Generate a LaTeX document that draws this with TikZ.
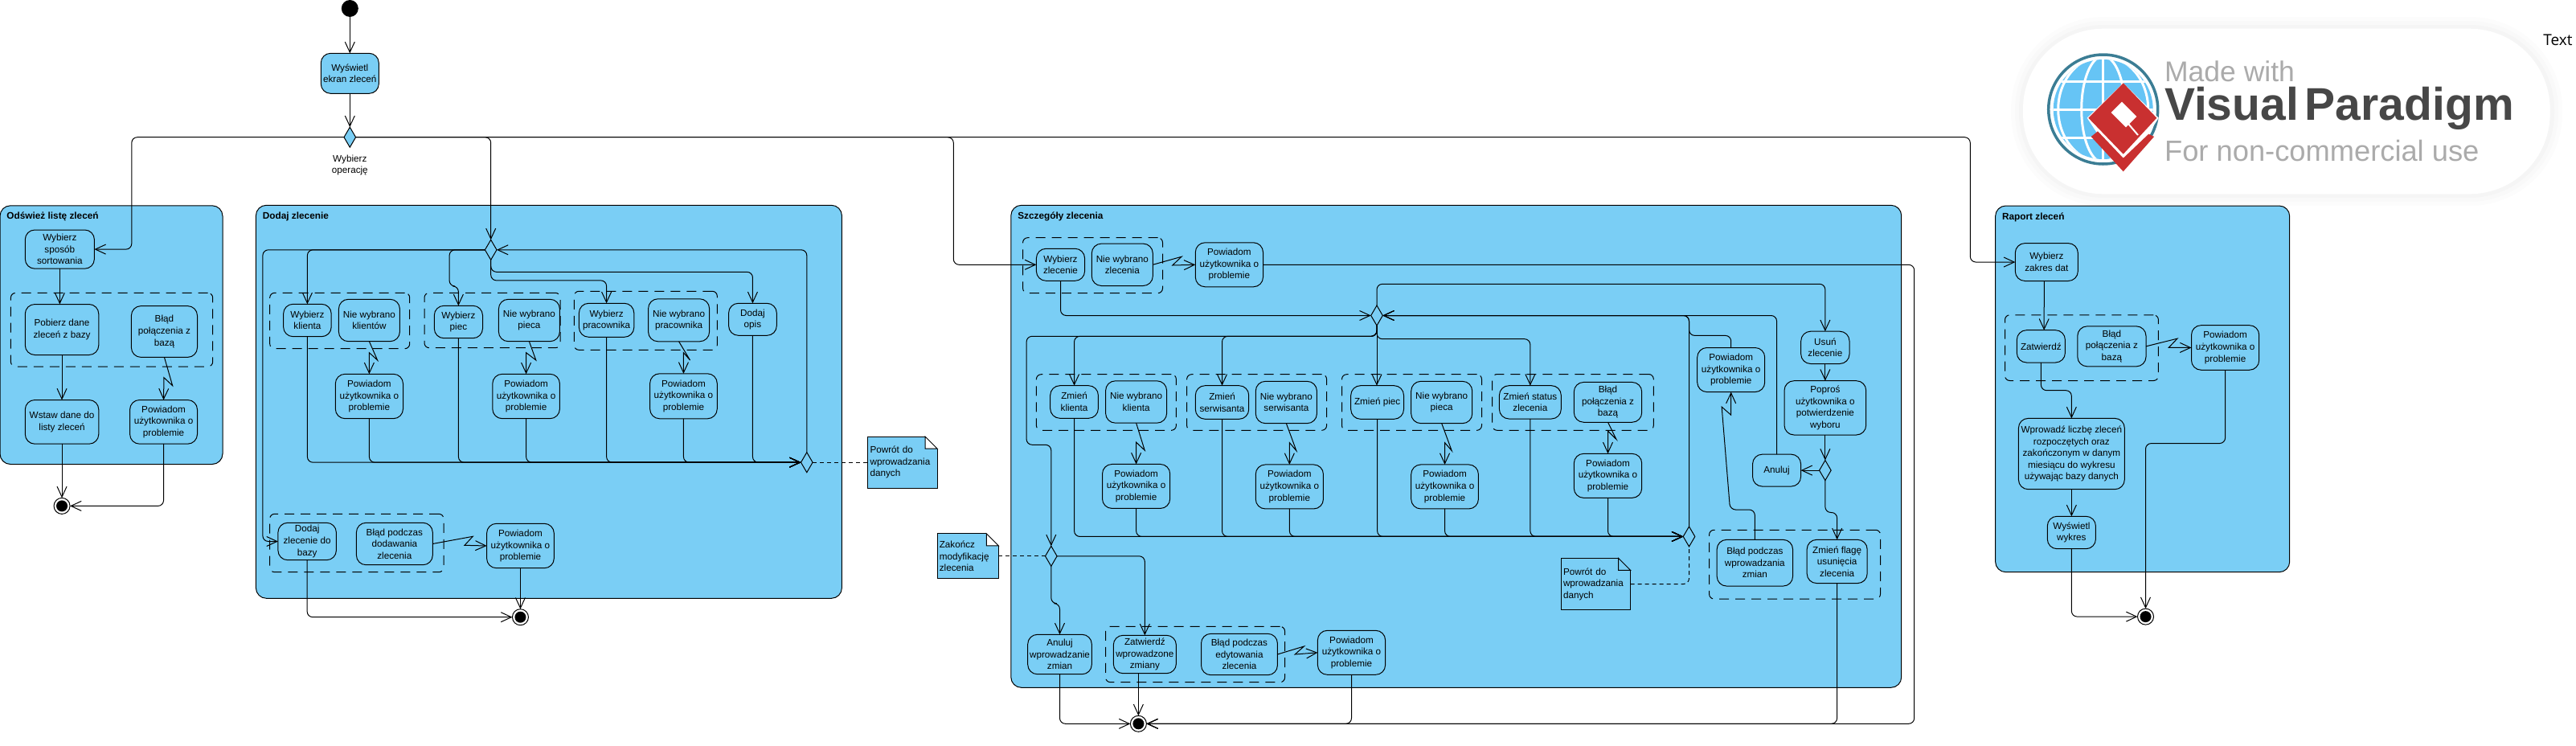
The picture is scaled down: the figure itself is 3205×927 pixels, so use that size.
\documentclass[tikz,border=0pt]{standalone}
\usepackage{fontspec}
\setmainfont{Liberation Sans}
\newfontfamily\plainfont{Open Sans}
\usetikzlibrary{positioning,arrows.meta,calc,shapes.geometric}
\definecolor{panelblue}{RGB}{122,206,245}
\definecolor{logored}{RGB}{201,48,48}
\definecolor{logoteal}{RGB}{59,125,148}
\definecolor{logosky}{RGB}{102,196,245}
\newcommand{\notefold}[2]{%
    \fill[#2] ([xshift=-15pt,yshift=0.6pt]#1.north east) rectangle ([xshift=0.6pt,yshift=-15pt]#1.north east);
    \draw ([xshift=-15pt]#1.north east) -- ([yshift=-15pt]#1.north east) -- ([xshift=-15pt,yshift=-15pt]#1.north east) -- cycle;
    \draw ([xshift=-15pt]#1.north east) -- (#1.north west);
    \draw ([yshift=-15pt]#1.north east) -- (#1.south east);
}
\begin{document}
\begin{tikzpicture}[
    x=1pt, y=1pt,
    line width=1pt,
    font=\fontsize{11.7}{14.6}\selectfont,
    sized/.style 2 args={minimum width=#1pt, minimum height=#2pt},
    panel/.style={draw, fill=panelblue, rounded corners=13pt, inner sep=0pt, outer sep=0pt},
    paneltitle/.style={font=\fontsize{11.8}{14.6}\selectfont\bfseries, inner sep=0pt},
    act/.style={draw, fill=panelblue, rounded corners=12pt, inner sep=0pt, outer sep=0pt, align=center},
    grp/.style={draw, rounded corners=6pt, dash pattern=on 12pt off 8pt, inner sep=0pt, outer sep=0pt},
    decision/.style={draw, diamond, fill=panelblue, inner sep=0pt, outer sep=0pt, minimum width=14.6pt, minimum height=25pt},
    startdot/.style={circle, fill=black, inner sep=0pt, outer sep=0pt, minimum size=21pt},
    finaldot/.style={circle, draw, fill=white, inner sep=0pt, outer sep=0pt, minimum size=20pt,
        path picture={\fill[black] (path picture bounding box.center) circle (7pt);}},
    notebox/.style={draw, fill=panelblue, inner xsep=2.5pt, inner ysep=0pt, outer sep=0pt, align=left},
    flow/.style={-{Straight Barb[length=13pt,width=12pt]}, rounded corners=7pt},
    zig/.style={-{Straight Barb[length=13pt,width=12pt]}},
    notelink/.style={dash pattern=on 5pt off 4pt, rounded corners=7pt}
]
\useasboundingbox (0,0) rectangle (3205,-927);

% ============================================================
% WATERMARK
% ============================================================
\fill[black, opacity=0.012, rounded corners=115pt] (2502,-21) rectangle (3188,-256);
\fill[black, opacity=0.012, rounded corners=110pt] (2507,-26) rectangle (3183,-251);
\fill[black, opacity=0.015, rounded corners=105pt] (2512,-31) rectangle (3178,-246);
\fill[white, rounded corners=100pt] (2517,-35.7) rectangle (3172.6,-241.3);
\begin{scope}[shift={(2616.7,-136)}]
\fill[logosky] (0,0) circle (62);
\begin{scope}
\clip (0,0) circle (62);
\draw[white, line width=3pt] (-70,0) -- (70,0) (-70,35) -- (70,35) (-70,-35) -- (70,-35) (0,-70) -- (0,70);
\draw[white, line width=3pt] (0,0) ellipse (27 and 66) (0,0) ellipse (56 and 66);
\end{scope}
\draw[logoteal, line width=3.5pt] (0,0) circle (68);
\fill[white] (-20,-10.7) -- (25,32.7) -- (69,-10.7) -- (25,-79) -- cycle;
\fill[logored] (-18.4,-10.7) -- (25,32.7) -- (66.6,-10.7) -- (25,-55.7) -- cycle;
\fill[white] (10,-4) -- (23.3,9.3) -- (41.6,-9) -- (28.3,-22.3) -- cycle;
\draw[white, line width=2pt] (31.3,-18) -- (43.3,-32);
\fill[logored] (-15,-34) -- (-6.7,-27.3) -- (25,-60.7) -- (56.6,-30.7) -- (63.3,-34) -- (25,-77.3) -- cycle;
\end{scope}
\node[anchor=west, inner sep=0pt, text=black!33, font=\fontsize{35.5}{40}\selectfont] (madewith) at (2692.6,-89) {Made with};
\node[anchor=west, inner sep=0pt, text=black!72, font=\fontsize{57}{60}\selectfont\bfseries] (vpname) at (2692.6,-135) {Visual\hspace{0.14em}Paradigm};
\node[anchor=west, inner sep=0pt, text=black!33, font=\fontsize{36.3}{40}\selectfont] (noncomm) at (2692.6,-187.8) {For non-commercial use};
\node[anchor=east, inner sep=0pt, font=\plainfont\fontsize{19}{22}\selectfont] (plaintext) at (3201,-49.5) {Text};

% ============================================================
% PANELS
% ============================================================
\node[panel, sized={277}{321.7}] (panelRefresh) at (138.5,-416.65) {};
\node[panel, sized={729}{489}] (panelAdd) at (682.9,-499.8) {};
\node[panel, sized={1107.9}{600}] (panelEdit) at (1811.75,-555.3) {};
\node[panel, sized={366.1}{455.7}] (panelReport) at (2665.65,-483.85) {};
\node[paneltitle, below right=8pt and 8pt of panelRefresh.north west] (titleRefresh) {Odśwież listę zleceń};
\node[paneltitle, below right=8pt and 8pt of panelAdd.north west] (titleAdd) {Dodaj zlecenie};
\node[paneltitle, below right=8pt and 8pt of panelEdit.north west] (titleEdit) {Szczegóły zlecenia};
\node[paneltitle, below right=8pt and 8pt of panelReport.north west] (titleReport) {Raport zleceń};

% ============================================================
% START
% ============================================================
\node[startdot] (start) at (435.3,-10.5) {};
\node[act, sized={72}{50}, below=45.3pt of start] (showScreen) {Wyświetl\\ekran zleceń};
\node[decision, below=41.9pt of showScreen] (choice) {};
\node[inner sep=0pt, align=center, below=9pt of choice] (choiceLabel) {Wybierz\\operację};

\draw[flow] (start) -- (showScreen);
\draw[flow] (showScreen) -- (choice);

% ============================================================
% ODSWIEZ LISTE
% ============================================================
\node[act, sized={86.1}{48.2}, below right=30.2pt and 31.3pt of panelRefresh.north west] (pickSort) {Wybierz\\sposób\\sortowania};
\node[act, sized={91.5}{63}, below right=44.3pt and 0pt of pickSort.south west] (fetch) {Pobierz dane\\zleceń z bazy};
\node[act, sized={82.1}{63.8}, right=40.6pt of fetch, yshift=-2.5pt] (failFetch) {Błąd\\połączenia z\\bazą};
\node[act, sized={91.5}{54.7}, below=56pt of fetch] (insertList) {Wstaw dane do\\listy zleceń};
\node[act, sized={83.9}{54.7}, right=38.8pt of insertList] (alertFetch) {Powiadom\\użytkownika o\\problemie};
\node[grp, sized={251.3}{91.6}, below right=-14.1pt and -17.9pt of fetch.north west] (groupFetch) {};
\node[finaldot, below=67.2pt of insertList] (finalRefresh) {};

\draw[flow] (choice.west) -- ++(-264.2,0) |- (pickSort.east);
\draw[flow] (pickSort.south) -- (pickSort.south |- fetch.north);
\draw[flow] (fetch) -- (insertList);
\draw[zig] (failFetch.south) -- ++(10.2,-35.3) -- ++(-10.7,10) -- (alertFetch.north);
\draw[flow] (insertList) -- (finalRefresh);
\draw[flow] (alertFetch.south) |- (finalRefresh.east);

% ============================================================
% DODAJ ZLECENIE
% ============================================================
\node[decision, below=43pt of panelAdd.north, xshift=-72.2pt] (mergeAdd) {};

\node[act, sized={59.6}{40.4}, below right=123pt and 34.2pt of panelAdd.north west] (pickClient) {Wybierz\\klienta};
\node[act, sized={76}{52.4}, right=9.2pt of pickClient] (noClient) {Nie wybrano\\klientów};
\node[act, sized={84.2}{55.4}, below=40.6pt of noClient] (alertClient) {Powiadom\\użytkownika o\\problemie};
\node[grp, sized={174}{69.4}, below right=-14pt and -16.9pt of pickClient.north west] (groupClient) {};

\node[act, sized={60.2}{40.4}, below right=2pt and 187.7pt of pickClient.north west] (pickKiln) {Wybierz\\piec};
\node[act, sized={76}{52.4}, right=19.9pt of pickKiln, yshift=2pt] (noKiln) {Nie wybrano\\pieca};
\node[act, sized={83.6}{55.4}, below=40.6pt of noKiln, xshift=-3.8pt] (alertKiln) {Powiadom\\użytkownika o\\problemie};
\node[grp, sized={169}{68.4}, below right=-16pt and -12.3pt of pickKiln.north west] (groupKiln) {};

\node[act, sized={68.4}{42}, below right=-3pt and 180.1pt of pickKiln.north west] (pickWorker) {Wybierz\\pracownika};
\node[act, sized={76}{53}, right=17.8pt of pickWorker] (noWorker) {Nie wybrano\\pracownika};
\node[act, sized={83.6}{56}, below=40pt of noWorker, xshift=5.85pt] (alertWorker) {Powiadom\\użytkownika o\\problemie};
\node[grp, sized={178}{73}, below right=-15pt and -6.1pt of pickWorker.north west] (groupWorker) {};

\node[act, sized={59.7}{40}, below right=0pt and 186.2pt of pickWorker.north west] (addDesc) {Dodaj\\opis};
\node[decision, below=145.4pt of addDesc.south, xshift=67.35pt] (mergeCheck) {};
\node[notebox, sized={86.3}{64}, text width=81pt, right=68.8pt of mergeCheck] (noteAdd) {Powrót do\\wprowadzania\\danych\\[7pt]};
\notefold{noteAdd}{white}

\node[act, sized={72.5}{46.4}, below right=395pt and 27.5pt of panelAdd.north west] (saveOrder) {Dodaj\\zlecenie do\\bazy};
\node[act, sized={94.9}{52.4}, right=25pt of saveOrder, yshift=-3pt] (failAdd) {Błąd podczas\\dodawania\\zlecenia};
\node[act, sized={83.7}{55.4}, right=67.3pt of failAdd, yshift=-2.5pt] (alertAdd) {Powiadom\\użytkownika o\\problemie};
\node[grp, sized={216.3}{72.4}, below right=-11pt and -10.2pt of saveOrder.north west] (groupAdd) {};
\node[finaldot, below=51pt of alertAdd] (finalAdd) {};

\draw[flow] (choice.east) -| (mergeAdd.north);
\draw[flow] (mergeCheck.north) |- (mergeAdd.east);
\draw[flow] (mergeAdd.west) -| (pickClient.north);
\draw[flow] (mergeAdd.west) -- ++(-44.3,0) -- ++(0,-45.2) -| (pickKiln.north);
\draw[flow] (mergeAdd.south) -- ++(0,-25.6) -| (pickWorker.north);
\draw[flow] (mergeAdd.south) -- ++(0,-15) -| (addDesc.north);
\draw[flow] (mergeAdd.west) -- ++(-276.5,0) |- (saveOrder.west);

\draw[zig] (noClient.south) -- ++(10.2,-23.3) -- ++(-10.2,9.3) -- (alertClient.north);
\draw[zig] (noKiln.south) -- ++(8.4,-23.3) -- ++(-12.2,9.3) -- (alertKiln.north);
\draw[zig] (noWorker.south) -- ++(14,-23.3) -- ++(-8.15,9.3) -- (alertWorker.north);

\draw[flow] (pickClient.south) |- (mergeCheck.west);
\draw[flow] (alertClient.south) |- (mergeCheck.west);
\draw[flow] (pickKiln.south) |- (mergeCheck.west);
\draw[flow] (alertKiln.south) |- (mergeCheck.west);
\draw[flow] (pickWorker.south) |- (mergeCheck.west);
\draw[flow] (alertWorker.south) |- (mergeCheck.west);
\draw[flow] (addDesc.south) |- (mergeCheck.west);
\draw[notelink] (mergeCheck.east) -- (noteAdd.west);

\draw[zig] (failAdd.east) -- ++(50,9.2) -- ++(-10.3,-11) -- (alertAdd.west);
\draw[flow] (alertAdd) -- (finalAdd);
\draw[flow] (saveOrder.south) |- (finalAdd.west);

% ============================================================
% SZCZEGOLY ZLECENIA
% ============================================================
\node[act, sized={60.2}{40}, below right=54pt and 31.6pt of panelEdit.north west] (pickOrder) {Wybierz\\zlecenie};
\node[act, sized={76}{52.4}, right=8.7pt of pickOrder] (noOrder) {Nie wybrano\\zlecenia};
\node[act, sized={84.2}{55}, right=53pt of noOrder] (alertOrder) {Powiadom\\użytkownika o\\problemie};
\node[grp, sized={173.9}{69}, below right=-13.6pt and -16.8pt of pickOrder.north west] (groupOrder) {};
\node[decision, below=124.7pt of panelEdit.north, xshift=-98.75pt] (mergeEdit) {};

\node[act, sized={59.7}{40.6}, below right=224.4pt and 48.9pt of panelEdit.north west] (changeClient) {Zmień\\klienta};
\node[act, sized={76}{52.3}, right=9.2pt of changeClient] (noClientEdit) {Nie wybrano\\klienta};
\node[act, sized={84.2}{55}, below=51.3pt of noClientEdit] (alertClientEdit) {Powiadom\\użytkownika o\\problemie};
\node[grp, sized={174}{69.6}, below right=-14pt and -17.3pt of changeClient.north west] (groupClientEdit) {};

\node[act, sized={66.4}{41.6}, below right=0pt and 180.6pt of changeClient.north west] (changeTech) {Zmień\\serwisanta};
\node[act, sized={76.1}{52.3}, right=8.6pt of changeTech] (noTech) {Nie wybrano\\serwisanta};
\node[act, sized={84.2}{55}, below=51.3pt of noTech, xshift=4pt] (alertTech) {Powiadom\\użytkownika o\\problemie};
\node[grp, sized={174}{69.6}, below right=-14pt and -10.7pt of changeTech.north west] (groupTech) {};

\node[act, sized={65.8}{41.6}, below right=0pt and 193.4pt of changeTech.north west] (changeKiln) {Zmień piec};
\node[act, sized={76}{52.3}, right=9.2pt of changeKiln] (noKilnEdit) {Nie wybrano\\pieca};
\node[act, sized={83.7}{55}, below=51.3pt of noKilnEdit, xshift=3.85pt] (alertKilnEdit) {Powiadom\\użytkownika o\\problemie};
\node[grp, sized={174}{69.6}, below right=-14pt and -11.2pt of changeKiln.north west] (groupKilnEdit) {};

\node[act, sized={76.9}{41.3}, below right=0pt and 184.7pt of changeKiln.north west] (changeStatus) {Zmień status\\zlecenia};
\node[act, sized={84.4}{49.8}, right=16pt of changeStatus] (failStatus) {Błąd\\połączenia z\\bazą};
\node[act, sized={84.4}{55}, below=39.1pt of failStatus] (alertStatus) {Powiadom\\użytkownika o\\problemie};
\node[grp, sized={200.6}{69.8}, below right=-14.2pt and -8.7pt of changeStatus.north west] (groupStatus) {};

\node[decision, below=35.6pt of alertStatus.south, xshift=101pt] (mergeBack) {};
\node[notebox, sized={86.4}{64.1}, text width=81pt, below right=75.1pt and -16pt of alertStatus.south west] (noteBack) {Powrót do\\wprowadzania\\danych\\[7pt]};
\notefold{noteBack}{panelblue}

\node[act, sized={84}{55.1}, below right=177.2pt and 853.9pt of panelEdit.north west] (alertSave) {Powiadom\\użytkownika o\\problemie};
\node[act, sized={60.3}{40.3}, below right=-20.3pt and 129pt of alertSave.north west] (removeOrder) {Usuń\\zlecenie};
\node[act, sized={101.7}{67.3}, below=21.2pt of removeOrder] (askConfirm) {Poproś\\użytkownika o\\potwierdzenie\\wyboru};
\node[decision, below=31.6pt of askConfirm] (mergeConfirm) {};
\node[act, sized={60}{39.9}, left=23pt of mergeConfirm] (cancelRemove) {Anuluj};
\node[act, sized={94.4}{57.7}, below right=106.2pt and -44.4pt of cancelRemove.north west] (failSave) {Błąd podczas\\wprowadzania\\zmian};
\node[act, sized={75}{54.2}, below right=0pt and 112pt of failSave.north west] (setFlag) {Zmień flagę\\usunięcia\\zlecenia};
\node[grp, sized={213}{85.8}, below right=-12.1pt and -9.6pt of failSave.north west] (groupRemove) {};

\node[decision, below=424pt of panelEdit.north, xshift=-503.95pt] (mergeEnd) {};
\node[notebox, sized={76}{56}, text width=71pt, left=58.2pt of mergeEnd] (noteEnd) {Zakończ\\modyfikację\\zlecenia};
\notefold{noteEnd}{white}
\node[act, sized={79.6}{49.4}, below right=534pt and 20.9pt of panelEdit.north west] (cancelEdit) {Anuluj\\wprowadzanie\\zmian};
\node[act, sized={78.1}{47.4}, below right=1pt and 106.6pt of cancelEdit.north west] (acceptEdit) {Zatwierdź\\wprowadzone\\zmiany};
\node[act, sized={94.9}{51.4}, right=31.1pt of acceptEdit] (failEdit) {Błąd podczas\\edytowania\\zlecenia};
\node[act, sized={84.2}{55}, right=50pt of failEdit, yshift=2.2pt] (alertEdit) {Powiadom\\użytkownika o\\problemie};
\node[grp, sized={223}{69.4}, below right=-11pt and -9.7pt of acceptEdit.north west] (groupEdit) {};
\node[finaldot, below=52.6pt of acceptEdit.south, xshift=-7.95pt] (finalEdit) {};

\draw[flow] (choice.east) -- ++(743.7,0) |- (pickOrder.west);
\draw[zig] (noOrder.east) -- ++(35.7,10) -- ++(-11.2,-10.7) -- (alertOrder.west);
\draw[flow] (alertOrder.east) -- ++(810.2,0) |- (finalEdit.east);
\draw[flow] (pickOrder.south) |- (mergeEdit.west);

\draw[flow] (mergeEdit.north) -- ++(0,26.7) -| (removeOrder.north);
\draw[flow] (mergeEdit.south) -- ++(0,-13.3) -- ++(-435.9,0) -- ++(0,-135) -| (mergeEnd.north);
\draw[flow] (mergeEdit.south) -- ++(0,-13.3) -| (changeClient.north);
\draw[flow] (mergeEdit.south) -- ++(0,-13.3) -| (changeTech.north);
\draw[flow] (mergeEdit.south) -- (mergeEdit.south |- changeKiln.north);
\draw[flow] (mergeEdit.south) -- ++(0,-16.7) -| (changeStatus.north);

\draw[zig] (noClientEdit.south) -- ++(10.6,-34) -- ++(-10.6,10) -- (alertClientEdit.north);
\draw[zig] (noTech.south) -- ++(12.5,-34) -- ++(-8.5,10) -- (alertTech.north);
\draw[zig] (noKilnEdit.south) -- ++(12.5,-34) -- ++(-8.65,10) -- (alertKilnEdit.north);
\draw[zig] (failStatus.south) -- ++(10.5,-21.3) -- ++(-10.5,10.4) -- (alertStatus.north);

\draw[flow] (changeClient.south) |- (mergeBack.west);
\draw[flow] (alertClientEdit.south) |- (mergeBack.west);
\draw[flow] (changeTech.south) |- (mergeBack.west);
\draw[flow] (alertTech.south) |- (mergeBack.west);
\draw[flow] (changeKiln.south) |- (mergeBack.west);
\draw[flow] (alertKilnEdit.south) |- (mergeBack.west);
\draw[flow] (changeStatus.south) |- (mergeBack.west);
\draw[flow] (alertStatus.south) |- (mergeBack.west);
\draw[flow] (mergeBack.north) |- (mergeEdit.east);
\draw[notelink] (noteBack.east) -| (mergeBack.south);

\draw[flow] (removeOrder) -- (askConfirm);
\draw[flow] (askConfirm) -- (mergeConfirm);
\draw[flow] (mergeConfirm) -- (cancelRemove);
\draw[flow] (cancelRemove.north) |- (mergeEdit.east);
\draw[flow] (alertSave.north) -- ++(0,15.1) -- ++(-52.2,0) |- (mergeEdit.east);
\draw[flow] (mergeConfirm.south) -- ++(0,-39.9) -| (setFlag.north);
\draw[flow] (failSave.north) -- ++(0,37.3) -- ++(-30.8,0) [sharp corners] -- ++(-10.4,127.9) -- ++(11.4,-10) -- (alertSave.south);
\draw[flow] (setFlag.south) |- (finalEdit.east);

\draw[notelink] (noteEnd.east) -- (mergeEnd.west);
\draw[flow] (mergeEnd.east) -| (acceptEdit.north);
\draw[flow] (mergeEnd.south) -- ++(0,-46.4) -| (cancelEdit.north);
\draw[zig] (failEdit.east) -- ++(33,10) -- ++(-11.2,-10) -- (alertEdit.west);
\draw[flow] (finalEdit.north |- acceptEdit.south) -- (finalEdit.north);
\draw[flow] (cancelEdit.south) |- (finalEdit.west);
\draw[flow] (alertEdit.south) |- (finalEdit.east);

% ============================================================
% RAPORT ZLECEN
% ============================================================
\node[act, sized={78}{46.9}, below right=46.6pt and 24.7pt of panelReport.north west] (pickDate) {Wybierz\\zakres dat};
\node[act, sized={60.1}{40.3}, below right=61.2pt and 2pt of pickDate.south west] (acceptReport) {Zatwierdź};
\node[act, sized={85.2}{50}, right=15.4pt of acceptReport] (failReport) {Błąd\\połączenia z\\bazą};
\node[act, sized={84.2}{55.6}, right=56.5pt of failReport, yshift=-1.6pt] (alertReport) {Powiadom\\użytkownika o\\problemie};
\node[grp, sized={190.9}{81.7}, below right=-18.9pt and -14.8pt of acceptReport.north west] (groupReport) {};
\node[act, sized={131.9}{88.3}, below right=69.4pt and 2.1pt of acceptReport.south west] (chartData) {Wprowadź liczbę zleceń\\rozpoczętych oraz\\zakończonym w danym\\miesiącu do wykresu\\używając bazy danych};
\node[act, sized={60.1}{40.4}, below=33.6pt of chartData] (showChart) {Wyświetl\\wykres};
\node[finaldot, below=74.4pt of showChart.south, xshift=92.15pt] (finalReport) {};

\draw[flow] (choice.east) -- ++(2008.7,0) |- (pickDate.west);
\draw[flow] ([xshift=-3pt]pickDate.south) -- ([xshift=3.8pt]acceptReport.north);
\draw[zig] (failReport.east) -- ++(39,9.7) -- ++(-10.7,-11.2) -- (alertReport.west);
\draw[flow] (acceptReport.south) -- ++(0,-34.7) -| (chartData.north);
\draw[flow] (chartData) -- (showChart);
\draw[flow] (showChart.south) |- (finalReport.west);
\draw[flow] (alertReport.south) -- ++(0,-91.3) -| (finalReport.north);

\end{tikzpicture}
\end{document}
